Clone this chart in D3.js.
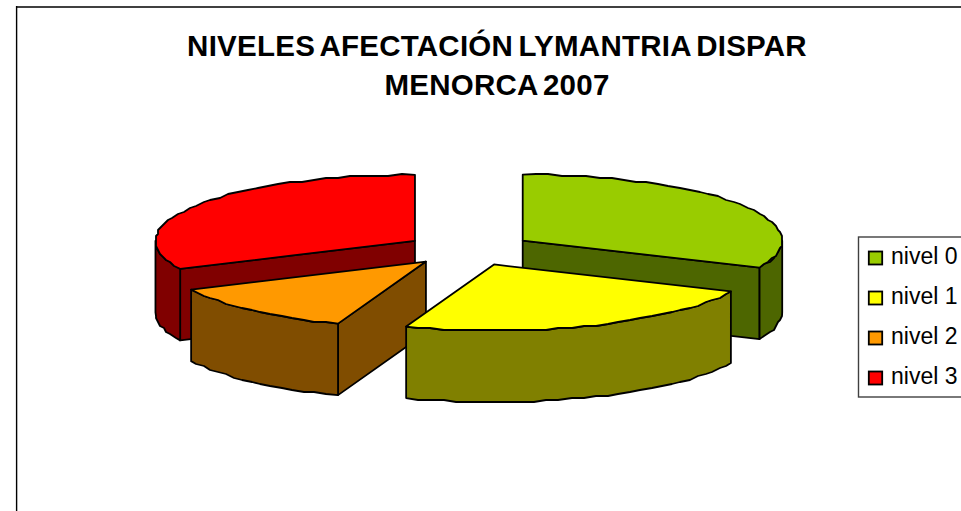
<!DOCTYPE html>
<html>
<head>
<meta charset="utf-8">
<script src="https://cdnjs.cloudflare.com/ajax/libs/d3/7.8.5/d3.min.js"></script>
<style>
    html, body { margin: 0; padding: 0; background: #fff; overflow: hidden; }
    text { font-family: "Liberation Sans", Arial, sans-serif; fill: #000; }
</style>
</head>
<body>
<div id="chart"></div>
<script>
// values (share of the pie, %)
const categories = ["nivel 0", "nivel 1", "nivel 2", "nivel 3"];
const values = [31.7, 23.8, 12.5, 32.0];
const topColors = ["#99cc00", "#ffff00", "#ff9900", "#ff0000"];
const sideColors = ["#4d6600", "#808000", "#804d00", "#800000"];
const titleLines = ["NIVELES AFECTACIÓN LYMANTRIA DISPAR", "MENORCA 2007"];

const width = 961, height = 511;

// 3d pie settings
const cx = 469, cy = 249.5;
const rx = 259.5, ry = 66;
const depth = 71.5;
const explode = 64;

const svg = d3.select("#chart").append("svg")
    .attr("width", width)
    .attr("height", height);

// chart frame, only the top and left edges fall inside the picture
svg.append("line")
    .attr("x1", 16).attr("x2", width)
    .attr("y1", 7).attr("y2", 7)
    .attr("stroke", "#404040")
    .attr("stroke-width", 2);
svg.append("line")
    .attr("x1", 16.6).attr("x2", 16.6)
    .attr("y1", 6).attr("y2", height)
    .attr("stroke", "#000")
    .attr("stroke-width", 1.4);

// title, the original has tight word gaps
svg.selectAll(".title")
    .data(titleLines)
    .enter().append("text")
    .attr("class", "title")
    .attr("x", 497)
    .attr("y", (d, i) => 55.5 + i * 39.5)
    .attr("text-anchor", "middle")
    .attr("font-size", 29.5)
    .attr("font-weight", "bold")
    .attr("letter-spacing", 0.25)
    .attr("word-spacing", -3)
    .text(d => d);

let slices = d3.pie().value(d => d).sort(null)(values);

// angle 0 is 12 o'clock, going clockwise, same as d3.pie
function project(angle, r, slice, drop) {
    let mid = (slice.startAngle + slice.endAngle) / 2;
    return [
        cx + explode * Math.sin(mid) + r * rx * Math.sin(angle),
        cy - explode * (ry / rx) * Math.cos(mid) - r * ry * Math.cos(angle) + drop
    ];
}

// the rim is a coarse polyline snapped to a grid, which gives the bumpy edge of the original
function rim(a0, a1, slice, drop) {
    let n = Math.max(1, Math.round(Math.abs(a1 - a0) / 0.05));
    return d3.range(n + 1).map(i => {
        let p = project(a0 + (a1 - a0) * i / n, 1, slice, drop);
        if (i === 0 || i === n) return p;
        return [Math.round(p[0] / 2) * 2, Math.round(p[1] / 2) * 2];
    });
}

let line = d3.line();
let pieGroup = svg.append("g").attr("class", "pie-chart");

function face(points, color) {
    pieGroup.append("path")
        .attr("d", line(points) + "Z")
        .attr("fill", color)
        .attr("stroke", "#000")
        .attr("stroke-width", 1.8)
        .attr("stroke-linejoin", "round");
}

// which cut face of each slice looks towards the viewer
const visibleCut = [1, null, 0, 0];

// back slices first so the front ones cover them
[3, 0, 2, 1].forEach(i => {
    let s = slices[i];
    let a0 = s.startAngle, a1 = s.endAngle;
    let apex = project(0, 0, s, 0);
    let apexLow = project(0, 0, s, depth);

    if (visibleCut[i] !== null) {
        let a = visibleCut[i] === 1 ? a1 : a0;
        face([apex, project(a, 1, s, 0), project(a, 1, s, depth), apexLow], sideColors[i]);
    }

    // outer wall, only the part on the front half of the ellipse
    let w0 = Math.max(a0, Math.PI / 2);
    let w1 = Math.min(a1, 1.5 * Math.PI);
    face(rim(w0, w1, s, 0).concat(rim(w1, w0, s, depth)), sideColors[i]);

    // top
    face([apex].concat(rim(a0, a1, s, 0)), topColors[i]);
});

// legend
let legend = svg.append("g").attr("class", "legend");
legend.append("rect")
    .attr("x", 858.5)
    .attr("y", 237)
    .attr("width", 120)
    .attr("height", 160)
    .attr("fill", "#fff")
    .attr("stroke", "#404040")
    .attr("stroke-width", 1.4);

let rows = legend.selectAll(".row")
    .data(categories)
    .enter().append("g")
    .attr("class", "row")
    .attr("transform", (d, i) => `translate(0,${258 + i * 40})`);

rows.append("rect")
    .attr("x", 868.8)
    .attr("y", -6.5)
    .attr("width", 13.4)
    .attr("height", 13)
    .attr("fill", (d, i) => topColors[i])
    .attr("stroke", "#000")
    .attr("stroke-width", 1.8);

rows.append("text")
    .attr("x", 891)
    .attr("y", 5.5)
    .attr("font-size", 23)
    .text(d => d);
</script>
</body>
</html>
